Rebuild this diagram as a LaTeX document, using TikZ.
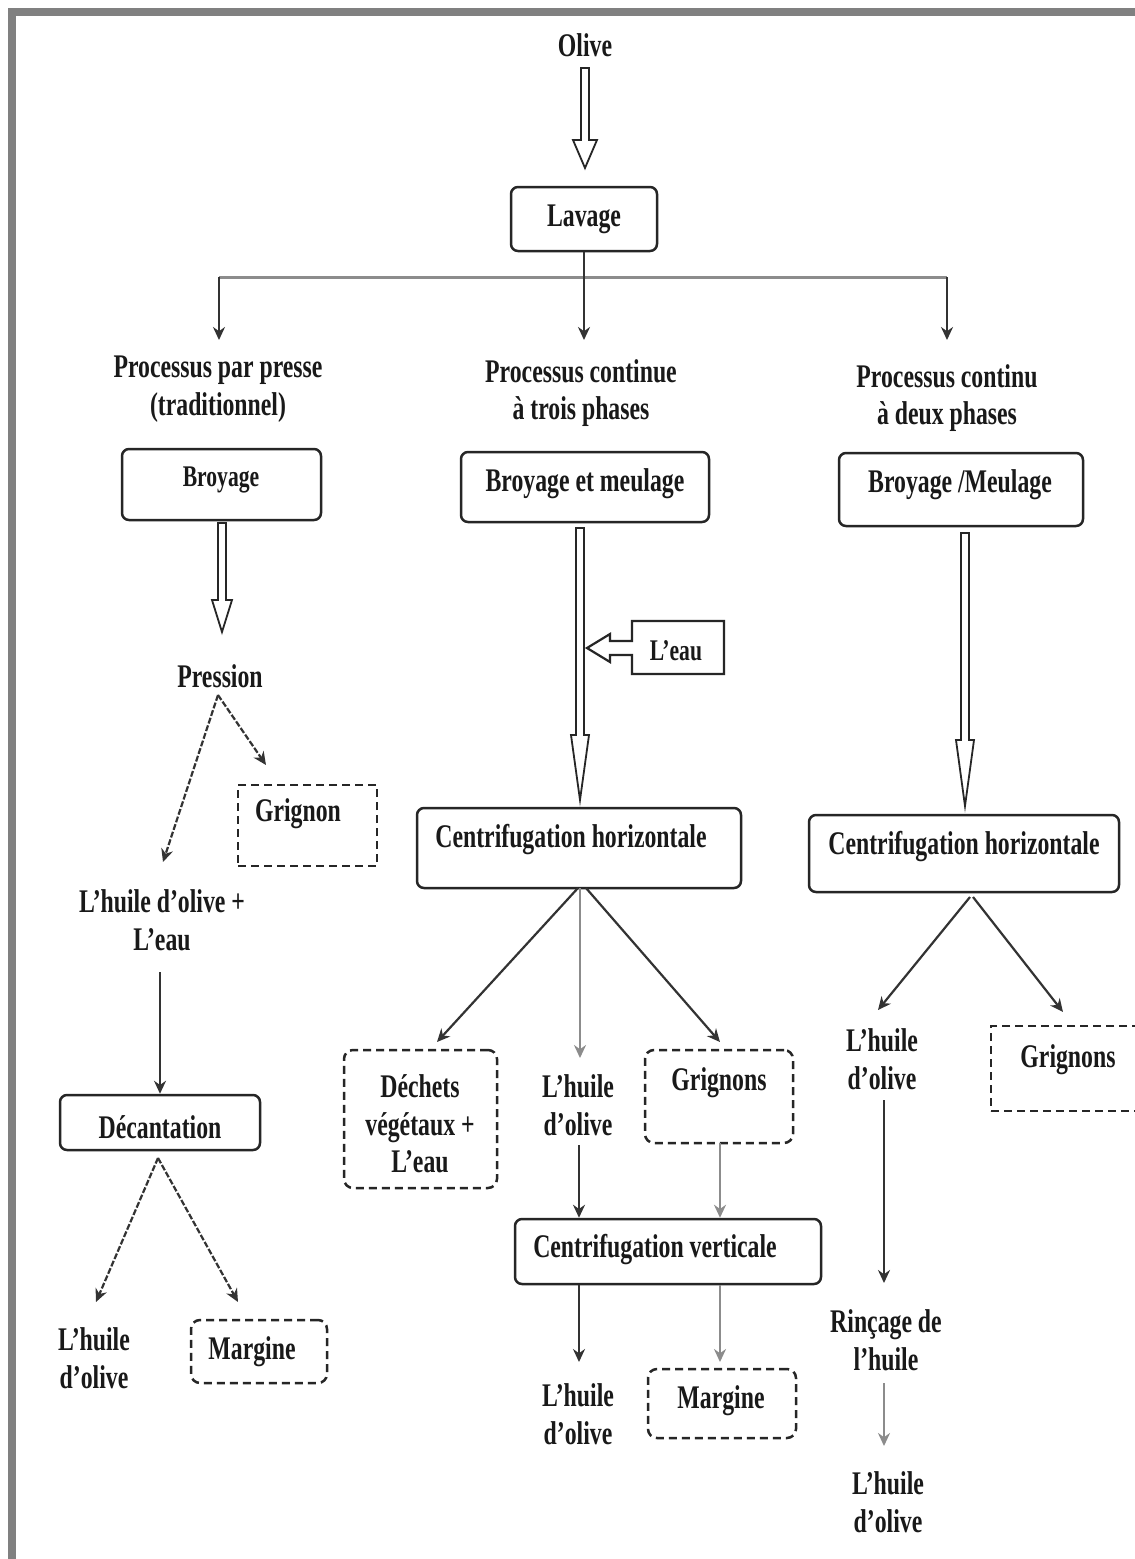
\documentclass[tikz,border=0pt]{standalone}
\usepackage{fontspec}
\setmainfont{Liberation Serif}[FakeStretch=0.72]
\usetikzlibrary{arrows.meta,calc}
\newcommand\fatarrow[4]{%
  \draw[fat] ($(#1)+(-4,0)$) -- ($(#2)+(-4,-#3)$) -- ($(#2)+(-#4,-#3)$) -- (#2)
    -- ($(#2)+(#4,-#3)$) -- ($(#2)+(4,-#3)$) -- ($(#1)+(4,0)$) -- cycle;}
\begin{document}
\begin{tikzpicture}[x=1pt,y=-1pt,
 txt/.style={font=\bfseries\fontsize{33}{37.5}\selectfont, align=center, inner sep=0pt, text=black!90, yshift=-3pt},
 stxt/.style={txt, font=\bfseries\fontsize{30}{36}\selectfont},
 box/.style={draw=black!85, line width=2.5pt, rounded corners=7pt, fill=white, inner sep=0pt},
 dbox/.style={draw=black!85, line width=2.5pt, dash pattern=on 8pt off 5pt, inner sep=0pt},
 rdbox/.style={dbox, rounded corners=9pt},
 arr/.style={draw=black!80, line width=2.2pt, -{Stealth[length=13pt,width=12pt]}},
 darr/.style={arr, dash pattern=on 6pt off 2pt},
 garr/.style={arr, draw=black!45},
 fat/.style={draw=black!85, line width=1.8pt, fill=white, line join=miter}]
\useasboundingbox (0,0) rectangle (1135,1559);
\fill[white] (0,0) rectangle (1135,1559);
% page frame
\draw[line width=8pt, black!50] (12,1559) -- (12,12) -- (1135,12);

% ---------- top ----------
\node[txt] (olive) at (585,42) {Olive};
\coordinate (o1) at (585,68);
\coordinate (o2) at (585,168);
\fatarrow{o1}{o2}{28}{12}
\node[box, minimum width=146pt, minimum height=64pt] (lavage) at (584,219) {};
\node[txt] at (584,216) {Lavage};

\coordinate (hA) at (219,277);
\coordinate (hC) at (947,277);
\coordinate (pA) at (219,340);
\coordinate (pB) at (584,340);
\coordinate (pC) at (947,340);
\draw[black!45, line width=3pt] (hA) -- (hC);
\draw[arr] (lavage.south) -- (pB);
\draw[arr] (hA) -- (pA);
\draw[arr] (hC) -- (pC);

\node[txt] (procA) at (218,386) {Processus par presse\\(traditionnel)};
\node[txt] (procB) at (581,390) {Processus continue\\à trois phases};
\node[txt] (procC) at (947,395) {Processus continu\\à deux phases};

% ---------- left column ----------
\node[box, minimum width=199pt, minimum height=71pt] (broyA) at (221.5,484.5) {};
\node[stxt] at (221,477) {Broyage};
\coordinate (a1) at (222,523);
\coordinate (a2) at (222,632);
\fatarrow{a1}{a2}{32}{10}
\node[txt] (pression) at (220,673) {Pression};
\coordinate (ps) at (218,695);
\node[dbox, minimum width=139pt, minimum height=81pt] (grignonA) at (307.5,825.5) {};
\node[txt] at (298,811) {Grignon};
\coordinate (gA) at (266,765);
\coordinate (hE) at (163,862);
\draw[darr] (ps) -- (hE);
\draw[darr] (ps) -- (gA);
\node[txt] (huileEau) at (162,917) {L’huile d’olive +\\L’eau};
\coordinate (e1) at (160,972);
\node[box, minimum width=200pt, minimum height=55pt] (decant) at (160,1122.5) {};
\node[txt] at (160,1124) {Décantation};
\draw[arr] (e1) -- (decant.north);
\coordinate (ds) at (158,1158);
\coordinate (dA) at (96,1302);
\coordinate (dB) at (238,1302);
\draw[darr] (ds) -- (dA);
\draw[darr] (ds) -- (dB);
\node[txt] (huileA) at (94,1355) {L’huile\\d’olive};
\node[rdbox, minimum width=136pt, minimum height=63pt] (margineA) at (259,1351.5) {};
\node[txt] at (252,1349) {Margine};

% ---------- middle column ----------
\node[box, minimum width=248pt, minimum height=70pt] (broyB) at (585,487) {};
\node[txt] at (585,481) {Broyage et meulage};
\coordinate (b1) at (580,528);
\coordinate (b2) at (580,800);
\fatarrow{b1}{b2}{65}{9}
\draw[fat, line width=2.2pt] (632,621) -- (724,621) -- (724,674) -- (632,674) -- (632,655)
  -- (610,655) -- (610,662) -- (587,648) -- (610,634) -- (610,641) -- (632,641) -- cycle;
\node[stxt] (eau) at (676,648) {L’eau};
\node[box, minimum width=324pt, minimum height=80pt] (centB) at (579,848) {};
\node[txt] at (571,837) {Centrifugation horizontale};
\coordinate (c1) at (578,888);
\coordinate (c2) at (580,888);
\coordinate (c3) at (586,888);
\coordinate (t1) at (437,1042);
\coordinate (t2) at (580,1058);
\coordinate (t3) at (720,1042);
\draw[arr] (c1) -- (t1);
\draw[garr] (c2) -- (t2);
\draw[arr] (c3) -- (t3);
\node[rdbox, minimum width=153pt, minimum height=138pt] (dechets) at (420.5,1119) {};
\node[txt] at (420,1121) {Déchets\\végétaux +\\L’eau};
\node[txt] (huileB) at (578,1102) {L’huile\\d’olive};
\node[rdbox, minimum width=148pt, minimum height=93pt] (grignonsB) at (719,1096.5) {};
\node[txt] at (719,1080) {Grignons};
\node[box, minimum width=306pt, minimum height=65pt] (centV) at (668,1251.5) {};
\node[txt] at (655,1247) {Centrifugation verticale};
\coordinate (v1) at (579,1145);
\coordinate (v2) at (720,1143);
\draw[arr] (v1) -- (v1 |- centV.north);
\draw[garr] (v2) -- (v2 |- centV.north);
\coordinate (w1) at (579,1362);
\coordinate (w2) at (720,1362);
\draw[arr] (w1 |- centV.south) -- (w1);
\draw[garr] (w2 |- centV.south) -- (w2);
\node[txt] (huileB2) at (578,1411) {L’huile\\d’olive};
\node[rdbox, minimum width=148pt, minimum height=69pt] (margineB) at (722,1403.5) {};
\node[txt] at (721,1398) {Margine};

% ---------- right column ----------
\node[box, minimum width=244pt, minimum height=73pt] (broyC) at (961,489.5) {};
\node[txt] at (960,482) {Broyage /Meulage};
\coordinate (r1) at (965,533);
\coordinate (r2) at (965,806);
\fatarrow{r1}{r2}{66}{9}
\node[box, minimum width=310pt, minimum height=77pt] (centC) at (964,853.5) {};
\node[txt] at (964,844) {Centrifugation horizontale};
\coordinate (k1) at (970,897);
\coordinate (k2) at (973,897);
\coordinate (u1) at (878,1010);
\coordinate (u2) at (1063,1012);
\draw[arr] (k1) -- (u1);
\draw[arr] (k2) -- (u2);
\node[txt] (huileC) at (882,1056) {L’huile\\d’olive};
\node[dbox, minimum width=149pt, minimum height=85pt] (grignonsC) at (1065.5,1068.5) {};
\node[txt] at (1068,1057) {Grignons};
\coordinate (m1) at (884,1100);
\coordinate (m2) at (884,1283);
\draw[arr] (m1) -- (m2);
\node[txt] (rincage) at (886,1337) {Rinçage de\\l’huile};
\coordinate (n1) at (884,1383);
\coordinate (n2) at (884,1446);
\draw[garr] (n1) -- (n2);
\node[txt] (huileC2) at (888,1499) {L’huile\\d’olive};
\end{tikzpicture}
\end{document}
